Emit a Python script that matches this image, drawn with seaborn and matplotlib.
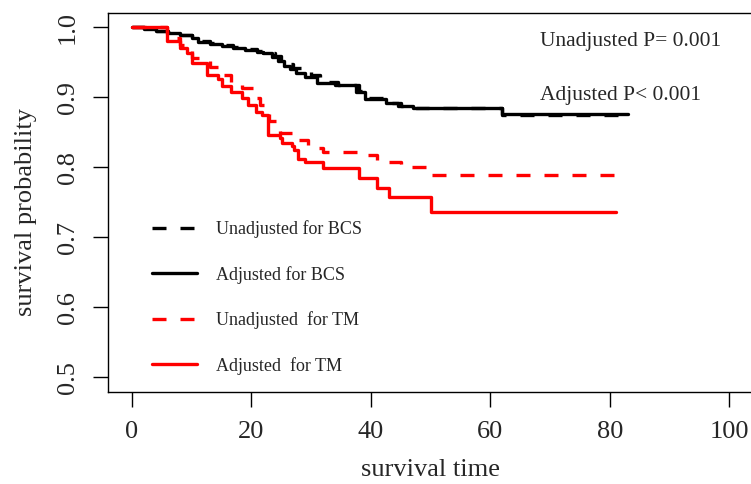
import pandas as pd
import seaborn as sns
import matplotlib.pyplot as plt
from matplotlib.lines import Line2D

# Kaplan-Meier style step curves (time, survival probability)
bcs_adj_time = [0, 2, 4, 6, 8, 10, 11, 13, 15, 17, 19, 21, 22, 23.5, 24.5, 25.5, 26.5, 27.5,
                29, 31, 34, 37.5, 39, 42.5, 44.5, 47, 62, 83]
bcs_adj_surv = [1.0, 0.997, 0.994, 0.991, 0.988, 0.984, 0.979, 0.976, 0.973, 0.970, 0.967, 0.965,
                0.963, 0.957, 0.951, 0.945, 0.940, 0.935, 0.929, 0.920, 0.917, 0.907, 0.897, 0.891,
                0.887, 0.884, 0.8755, 0.8755]

bcs_unadj_time = [0, 2, 4, 6, 8, 10, 11.5, 13, 15, 17, 19, 21, 22.5, 24, 25, 26, 27, 28.5, 30,
                  31.5, 34.5, 38, 39.5, 43, 45, 47.5, 62, 83]
bcs_unadj_surv = [1.0, 0.997, 0.995, 0.992, 0.989, 0.985, 0.980, 0.977, 0.974, 0.971, 0.968, 0.966,
                  0.963, 0.958, 0.953, 0.947, 0.941, 0.937, 0.931, 0.922, 0.918, 0.909, 0.899,
                  0.892, 0.888, 0.884, 0.874, 0.874]

tm_adj_time = [0, 5.8, 8, 9.2, 10, 12.5, 14.4, 15, 16.5, 18.5, 19.5, 20.8, 21.8, 22.8, 24.8, 25.1,
               26.8, 27.2, 27.8, 29, 32, 38, 41, 43, 50, 81]
tm_adj_surv = [1.0, 0.98, 0.970, 0.963, 0.949, 0.932, 0.926, 0.916, 0.908, 0.899, 0.889, 0.879,
               0.874, 0.846, 0.841, 0.835, 0.830, 0.824, 0.812, 0.807, 0.799, 0.785, 0.770, 0.757,
               0.736, 0.736]

tm_unadj_time = [0, 5.8, 8, 9.2, 10, 13, 15.3, 16.5, 18.5, 20.3, 21.5, 23, 24.8, 26.8, 27.5, 29.5,
                 32, 38, 41, 45, 50, 81]
tm_unadj_surv = [1.0, 0.985, 0.975, 0.968, 0.956, 0.943, 0.931, 0.922, 0.913, 0.899, 0.889, 0.866,
                 0.849, 0.843, 0.839, 0.828, 0.822, 0.817, 0.807, 0.800, 0.789, 0.789]

labels = ['Unadjusted for BCS', 'Adjusted for BCS', 'Unadjusted  for TM', 'Adjusted  for TM']
colors = ['black', 'black', 'red', 'red']
dashed = [True, False, True, False]
series = [(bcs_unadj_time, bcs_unadj_surv), (bcs_adj_time, bcs_adj_surv),
          (tm_unadj_time, tm_unadj_surv), (tm_adj_time, tm_adj_surv)]

sns.set_style('ticks')
plt.rcParams['font.family'] = ['Liberation Serif', 'DejaVu Serif']

fig = plt.figure(figsize=(7.51, 4.84), dpi=100)
ax = fig.add_axes([0.1438, 0.1911, 0.8594, 0.782])

lw = 2.4
dash = (4.2, 4.2)
for (t, s), lab, c, d in zip(series, labels, colors, dashed):
    df = pd.DataFrame({'time': t, 'surv': s})
    sns.lineplot(data=df, x='time', y='surv', ax=ax, color=c, lw=lw, estimator=None,
                 sort=False, drawstyle='steps-post',
                 linestyle=(0, dash) if d else '-')

ax.set_xlim(-4, 104)
ax.set_ylim(0.48, 1.02)
ax.set_xticks([0, 20, 40, 60, 80, 100])
ax.set_yticks([0.5, 0.6, 0.7, 0.8, 0.9, 1.0])
ax.set_yticklabels(['0.5', '0.6', '0.7', '0.8', '0.9', '1.0'], va='center')
ax.tick_params(axis='both', labelsize=19, length=11, width=1, pad=10, color='black')
ax.tick_params(axis='y', labelrotation=90)
for sp in ax.spines.values():
    sp.set_linewidth(1)
    sp.set_color('black')

ax.set_xlabel('survival time', fontsize=19, labelpad=12)
ax.set_ylabel('survival probability', fontsize=19, labelpad=14)
ax.yaxis.set_label_coords(-0.11, 0.475)

ax.text(68.3, 0.980, 'Unadjusted P= 0.001', fontsize=15.5, va='center', ha='left')
ax.text(68.3, 0.903, 'Adjusted P< 0.001', fontsize=15.5, va='center', ha='left')

handles = [Line2D([], [], color=c, lw=lw, linestyle=(0, dash) if d else '-')
           for c, d in zip(colors, dashed)]
ax.legend(handles, labels, loc='upper left', bbox_to_anchor=(0.068, 0.452), frameon=False,
          fontsize=13, handlelength=2.5, handletextpad=1.05, labelspacing=1.53, borderpad=0,
          borderaxespad=0)

fig.savefig('out.png', dpi=100)
